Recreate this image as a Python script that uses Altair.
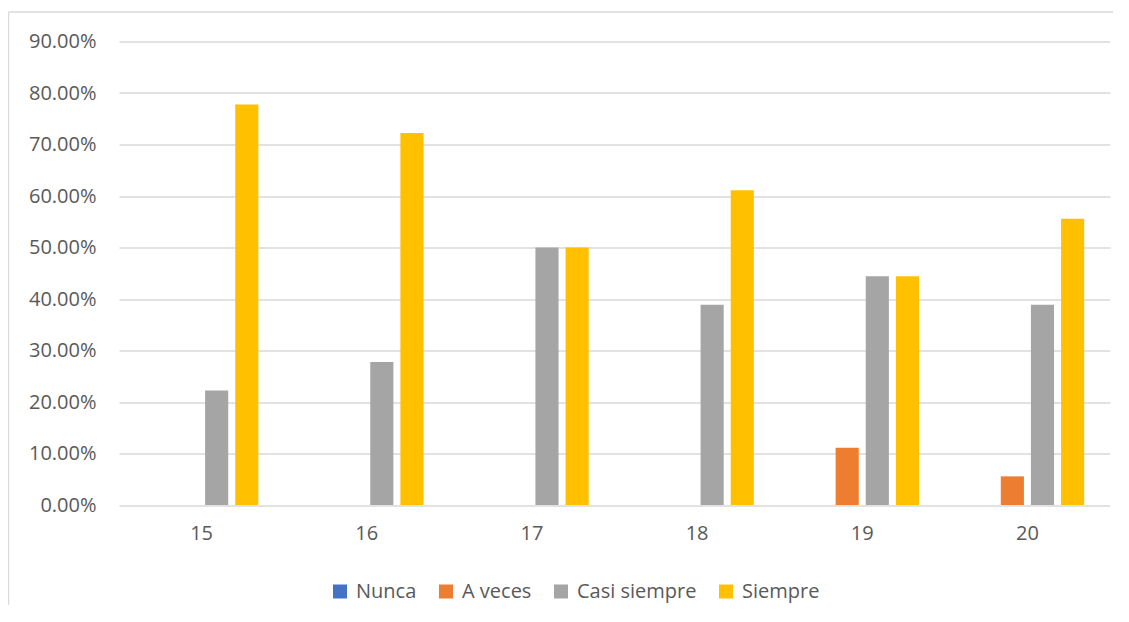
import altair as alt
import pandas as pd

categories = ["15", "16", "17", "18", "19", "20"]
series = ["Nunca", "A veces", "Casi siempre", "Siempre"]
nunca = [0, 0, 0, 0, 0, 0]
a_veces = [0, 0, 0, 0, 0.1111, 0.0556]
casi_siempre = [0.2222, 0.2778, 0.5, 0.3889, 0.4444, 0.3889]
siempre = [0.7778, 0.7222, 0.5, 0.6111, 0.4444, 0.5556]
colors = ["#4472C4", "#ED7D31", "#A5A5A5", "#FFC000"]
y_ticks = [0, 0.1, 0.2, 0.3, 0.4, 0.5, 0.6, 0.7, 0.8, 0.9]

rows = []
for name, vals in zip(series, [nunca, a_veces, casi_siempre, siempre]):
    for c, v in zip(categories, vals):
        rows.append({"cat": c, "serie": name, "valor": v})
df = pd.DataFrame(rows)

FONT = "Open Sans"
LABEL = "#595959"
GRID = "#d9d9d9"

bars = alt.Chart(df).mark_bar().encode(
    x=alt.X(
        "cat:N", sort=categories, title=None,
        scale=alt.Scale(paddingInner=0.27, paddingOuter=0.135),
        axis=alt.Axis(labelAngle=0, ticks=False, domain=False, labelFontSize=20,
                      labelColor=LABEL, labelPadding=18, labelFont=FONT, grid=False),
    ),
    xOffset=alt.XOffset("serie:N", sort=series,
                        scale=alt.Scale(paddingInner=0.233, paddingOuter=0.117)),
    y=alt.Y(
        "valor:Q", title=None,
        scale=alt.Scale(domain=[0, 0.9], nice=False),
        axis=alt.Axis(format=".2%", values=y_ticks, ticks=False, domain=False,
                      labelFontSize=20, labelColor=LABEL, labelFont=FONT, labelPadding=23,
                      grid=True, gridColor=GRID, gridWidth=1.3),
    ),
    color=alt.Color(
        "serie:N", sort=series,
        scale=alt.Scale(domain=series, range=colors),
        legend=alt.Legend(title=None, orient="none", direction="horizontal", columns=4,
                          legendX=211, legendY=540, symbolType="square", symbolSize=196,
                          symbolStrokeWidth=0, labelFontSize=20, labelFont=FONT,
                          labelColor=LABEL, labelOffset=6, columnPadding=19, padding=0),
    ),
)

frame_df = pd.DataFrame({"k": [0]})
top_line = alt.Chart(frame_df).mark_rule(color=GRID, strokeWidth=1.3).encode(
    x=alt.value(-110.5), x2=alt.value(1020), y=alt.value(-29.5)
)
left_line = alt.Chart(frame_df).mark_rule(color=GRID, strokeWidth=1.3).encode(
    x=alt.value(-110.5), y=alt.value(-29.5), y2=alt.value(700)
)

chart = alt.layer(top_line, left_line, bars).properties(
    width=991, height=463.5,
    autosize=alt.AutoSizeParams(type="none"),
    padding={"left": 111, "top": 33.5, "right": 3, "bottom": 100},
    background="white",
).configure_view(stroke=None)

chart.save("out.html", embed_options={"renderer": "svg", "actions": False})
